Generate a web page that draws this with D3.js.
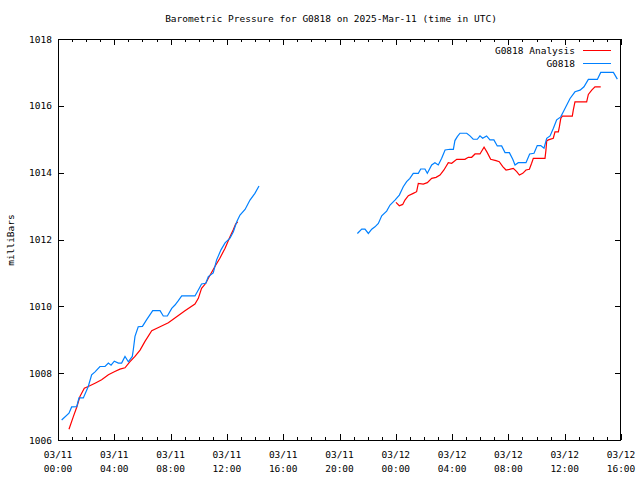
<!DOCTYPE html>
<html>
<head>
<meta charset="utf-8">
<script src="https://cdn.jsdelivr.net/npm/d3@7"></script>
<style>
  html, body { margin: 0; padding: 0; background: #fff; }
  svg text { font-family: "DejaVu Sans Mono", "Liberation Mono", monospace; font-size: 9.5px; fill: #000; }
</style>
</head>
<body>
<svg id="chart" width="640" height="480"></svg>
<script>
// ---- Data (hours since 2025-03-11 00:00 UTC, pressure in millibars) ----
const obsHours1 = [0.26,0.78,0.97,1.33,1.49,1.80,2.15,2.39,2.63,2.98,3.34,3.58,3.77,4.00,4.29,4.52,4.76,5.00,5.28,5.35,5.47,5.70,6.00,6.30,6.73,7.25,7.48,7.77,8.08,8.31,8.55,8.79,9.73,9.97,10.20,10.50,10.68,11.03,11.27,11.58,11.87,12.22,12.46,12.70,12.93,13.29,13.64,13.99,14.28];
const obsPressure1 = [1006.60,1006.80,1006.99,1007.00,1007.26,1007.26,1007.60,1007.95,1008.04,1008.20,1008.20,1008.30,1008.24,1008.36,1008.30,1008.30,1008.50,1008.34,1008.50,1008.70,1009.10,1009.39,1009.40,1009.60,1009.87,1009.87,1009.71,1009.71,1009.94,1010.04,1010.17,1010.31,1010.31,1010.49,1010.67,1010.69,1010.89,1011.00,1011.39,1011.69,1011.90,1012.04,1012.23,1012.53,1012.73,1012.90,1013.18,1013.38,1013.60];

const obsHours2 = [21.27,21.58,21.81,22.05,22.29,22.52,22.76,23.00,23.35,23.59,23.94,24.25,24.53,24.77,25.00,25.24,25.60,25.77,26.07,26.24,26.55,26.78,27.02,27.26,27.50,27.85,28.09,28.20,28.37,28.56,29.04,29.27,29.50,29.79,29.98,30.17,30.45,30.69,30.97,31.21,31.52,31.76,32.07,32.31,32.47,32.70,33.25,33.51,33.82,34.05,34.30,34.53,34.72,34.96,35.19,35.43,35.72,36.02,36.38,36.73,37.09,37.37,37.68,38.32,38.56,39.46,39.74];
const obsPressure2 = [1012.18,1012.31,1012.31,1012.18,1012.31,1012.38,1012.48,1012.71,1012.85,1013.03,1013.18,1013.33,1013.58,1013.73,1013.83,1013.98,1013.98,1014.11,1014.11,1013.98,1014.23,1014.30,1014.23,1014.43,1014.68,1014.70,1014.70,1014.96,1015.08,1015.18,1015.18,1015.10,1015.00,1015.00,1015.10,1015.03,1015.10,1014.98,1014.98,1014.80,1014.80,1014.60,1014.60,1014.40,1014.23,1014.30,1014.30,1014.56,1014.58,1014.81,1014.81,1014.73,1015.03,1015.10,1015.32,1015.58,1015.67,1015.92,1016.22,1016.42,1016.47,1016.57,1016.79,1016.79,1017.00,1017.00,1016.80];

const anaHours1 = [0.78,1.09,1.33,1.56,1.87,2.15,2.63,3.10,3.58,4.00,4.40,4.76,5.10,5.47,5.83,6.18,6.66,7.25,7.84,8.43,9.02,9.73,9.97,10.20,10.50,10.68,11.15,11.50,11.87,12.22,12.46,12.62,12.77];
const anaPressure1 = [1006.32,1006.70,1006.98,1007.30,1007.55,1007.60,1007.70,1007.80,1007.95,1008.04,1008.12,1008.16,1008.34,1008.50,1008.69,1008.95,1009.27,1009.39,1009.51,1009.69,1009.87,1010.07,1010.24,1010.54,1010.69,1010.84,1011.19,1011.44,1011.74,1012.08,1012.30,1012.46,1012.53];

const anaHours2 = [24.01,24.25,24.49,24.65,24.89,25.24,25.48,25.60,25.95,26.24,26.55,26.86,27.14,27.42,27.73,27.97,28.33,28.91,29.15,29.39,29.63,29.98,30.27,30.50,30.74,31.12,31.35,31.60,31.83,32.07,32.35,32.59,32.78,33.02,33.25,33.49,33.65,33.77,34.60,34.67,34.72,34.84,35.19,35.31,35.55,35.62,35.72,35.83,36.54,36.61,36.73,37.56,37.68,37.92,38.15,38.56];
const anaPressure2 = [1013.11,1013.01,1013.05,1013.18,1013.31,1013.38,1013.43,1013.68,1013.66,1013.70,1013.83,1013.86,1013.93,1014.08,1014.30,1014.28,1014.40,1014.40,1014.46,1014.46,1014.56,1014.56,1014.76,1014.60,1014.40,1014.36,1014.33,1014.18,1014.08,1014.10,1014.13,1014.03,1013.93,1013.98,1014.08,1014.10,1014.28,1014.43,1014.43,1014.68,1014.95,1014.98,1015.03,1015.22,1015.22,1015.37,1015.62,1015.69,1015.69,1015.87,1016.12,1016.12,1016.34,1016.47,1016.57,1016.57];

const yTicks = [1006, 1008, 1010, 1012, 1014, 1016, 1018];
const titleText = "Barometric Pressure for G0818 on 2025-Mar-11 (time in UTC)";
const yLabel = "milliBars";
const seriesNames = ["G0818 Analysis", "G0818"];
const seriesColors = ["#ff0000", "#0080ff"];

// ---- Layout ----
const W = 640, H = 480;
const m = { left: 58, right: 19, top: 39, bottom: 40 };
const t0 = Date.UTC(2025, 2, 11, 0, 0);
const t1 = Date.UTC(2025, 2, 12, 16, 0);
const toDate = h => new Date(t0 + h * 3600e3);

const svg = d3.select("#chart");
const x = d3.scaleUtc().domain([new Date(t0), new Date(t1)]).range([m.left, W - m.right]);
const y = d3.scaleLinear().domain([1006, 1018]).range([H - m.bottom, m.top]);

const g = svg.append("g");

// Title
svg.append("text").attr("x", 331).attr("y", 22).attr("text-anchor", "middle").text(titleText);

// Y label
svg.append("text").attr("transform", `translate(14,240) rotate(-90)`).attr("text-anchor", "middle").text(yLabel);

// Axes ticks
const majorTimes = d3.utcHour.every(4).range(new Date(t0), new Date(t1 + 1));
const minorTimes = d3.utcHour.every(1).range(new Date(t0), new Date(t1 + 1));
const axG = svg.append("g").attr("stroke", "#000").attr("shape-rendering", "crispEdges");

minorTimes.forEach(d => {
  const px = Math.round(x(d)) + 0.5;
  axG.append("line").attr("x1", px).attr("x2", px).attr("y1", H - m.bottom).attr("y2", H - m.bottom - 3);
  axG.append("line").attr("x1", px).attr("x2", px).attr("y1", m.top).attr("y2", m.top + 3);
});
majorTimes.forEach(d => {
  const px = Math.round(x(d)) + 0.5;
  axG.append("line").attr("x1", px).attr("x2", px).attr("y1", H - m.bottom).attr("y2", H - m.bottom - 6);
  axG.append("line").attr("x1", px).attr("x2", px).attr("y1", m.top).attr("y2", m.top + 6);
});
yTicks.forEach(v => {
  const py = Math.round(y(v)) + 0.5;
  axG.append("line").attr("x1", m.left).attr("x2", m.left + 6).attr("y1", py).attr("y2", py);
  axG.append("line").attr("x1", W - m.right).attr("x2", W - m.right - 6).attr("y1", py).attr("y2", py);
});

// Y tick labels
yTicks.forEach(v => {
  svg.append("text").attr("x", m.left - 6).attr("y", y(v) + 3.5).attr("text-anchor", "end").text(v);
});

// X tick labels
const fmtD = d3.utcFormat("%m/%d"), fmtT = d3.utcFormat("%H:%M");
majorTimes.forEach(d => {
  const tx = svg.append("text").attr("text-anchor", "middle").attr("x", x(d));
  tx.append("tspan").attr("x", x(d)).attr("y", 458).text(fmtD(d));
  tx.append("tspan").attr("x", x(d)).attr("y", 472).text(fmtT(d));
});

// Lines
const line = d3.line().x(d => x(toDate(d[0]))).y(d => y(d[1]));
const zip = (a, b) => a.map((h, i) => [h, b[i]]);
const plots = [
  [zip(anaHours1, anaPressure1), seriesColors[0]],
  [zip(anaHours2, anaPressure2), seriesColors[0]],
  [zip(obsHours1, obsPressure1), seriesColors[1]],
  [zip(obsHours2, obsPressure2), seriesColors[1]],
];
plots.forEach(([data, c]) => {
  svg.append("path").datum(data).attr("d", line).attr("fill", "none").attr("stroke", c).attr("stroke-width", 1.2);
});

// Frame
svg.append("rect").attr("x", m.left + 0.5).attr("y", m.top + 0.5)
  .attr("width", W - m.left - m.right - 1).attr("height", H - m.top - m.bottom)
  .attr("fill", "none").attr("stroke", "#000").attr("shape-rendering", "crispEdges");

// Legend
seriesNames.forEach((n, i) => {
  const ly = 50 + i * 13;
  svg.append("text").attr("x", 575).attr("y", ly + 3.5).attr("text-anchor", "end").text(n);
  svg.append("line").attr("x1", 583).attr("x2", 611).attr("y1", ly + 0.5).attr("y2", ly + 0.5)
    .attr("stroke", seriesColors[i]).attr("stroke-width", 1.2).attr("shape-rendering", "crispEdges");
});
</script>
</body>
</html>
